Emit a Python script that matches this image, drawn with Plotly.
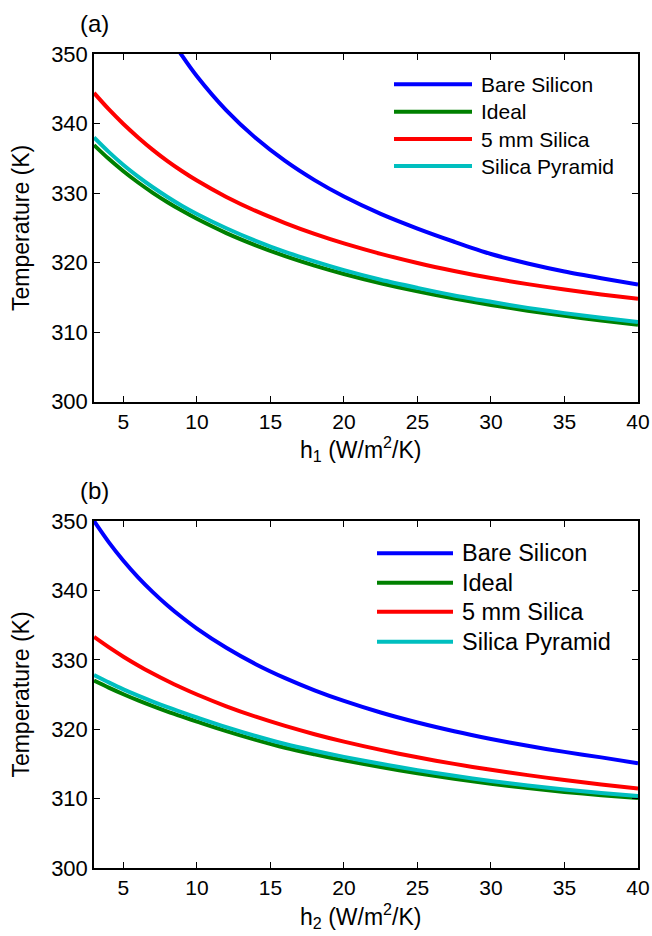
import plotly.graph_objects as go

# Heat transfer coefficient grid (W/m^2/K)
h = [3, 4, 5, 6, 7, 8, 9, 10, 12, 14, 16, 18, 20, 22.5, 25, 27.5, 30, 32.5, 35, 37.5, 40]

# (a) temperature (K) vs h1
a_bare = [None, None, None, None, None, 353.02, 349.72, 346.80, 341.89, 337.91, 334.62, 331.86, 329.50,
          327.01, 324.90, 323.00, 321.24, 319.88, 318.73, 317.76, 316.86]
a_ideal = [336.90, 334.92, 333.14, 331.52, 330.04, 328.69, 327.45, 326.30, 324.25, 322.49, 320.94, 319.58,
           318.37, 317.04, 315.87, 314.83, 313.91, 313.09, 312.34, 311.67, 311.05]
a_silica = [344.40, 342.06, 339.94, 338.01, 336.22, 334.60, 333.14, 331.80, 329.44, 327.43, 325.69, 324.13,
            322.76, 321.26, 319.95, 318.80, 317.78, 316.91, 316.13, 315.43, 314.80]
a_pyramid = [338.00, 335.92, 334.04, 332.37, 330.84, 329.44, 328.15, 327.00, 324.95, 323.14, 321.54, 320.18,
             318.92, 317.54, 316.37, 315.28, 314.36, 313.49, 312.74, 312.07, 311.45]

# (b) temperature (K) vs h2
b_bare = [350.00, 346.96, 344.28, 341.89, 339.76, 337.83, 336.09, 334.50, 331.73, 329.37, 327.36, 325.61,
          324.08, 322.41, 320.97, 319.71, 318.60, 317.61, 316.73, 315.94, 315.10]
b_ideal = [327.00, 325.99, 325.04, 324.15, 323.32, 322.53, 321.80, 321.10, 319.72, 318.46, 317.32, 316.38,
           315.51, 314.54, 313.65, 312.86, 312.13, 311.52, 310.96, 310.49, 310.08]
b_silica = [333.30, 331.82, 330.45, 329.19, 328.03, 326.94, 325.94, 325.00, 323.30, 321.80, 320.47, 319.28,
            318.21, 317.02, 315.95, 315.00, 314.15, 313.38, 312.68, 312.04, 311.45]
b_pyramid = [327.80, 326.74, 325.74, 324.83, 323.98, 323.17, 322.42, 321.70, 320.30, 319.02, 317.86, 316.90,
             316.01, 315.01, 314.10, 313.28, 312.53, 311.89, 311.31, 310.81, 310.38]

names = ["Bare Silicon", "Ideal", "5 mm Silica", "Silica Pyramid"]
colors = ["#0000ff", "#008000", "#ff0000", "#00bfbf"]

x_ticks = [5, 10, 15, 20, 25, 30, 35, 40]
y_ticks = [300, 310, 320, 330, 340, 350]

FONT = "Liberation Sans, Arial, Helvetica, sans-serif"

fig = go.Figure()

panels = [
    ("x", "y", [a_bare, a_ideal, a_silica, a_pyramid]),
    ("x2", "y2", [b_bare, b_ideal, b_silica, b_pyramid]),
]
for xa, ya, series in panels:
    for name, col, ys in zip(names, colors, series):
        fig.add_trace(go.Scatter(
            x=h, y=ys, name=name, mode="lines", xaxis=xa, yaxis=ya, showlegend=False,
            line=dict(color=col, width=4, shape="spline", smoothing=0.8),
            connectgaps=False, cliponaxis=True,
        ))

axis_common = dict(
    showline=True, linecolor="black", linewidth=1.5, mirror="ticks",
    ticks="inside", ticklen=6, tickwidth=1.2, tickcolor="black",
    showgrid=False, zeroline=False,
)
x_tickfont = dict(family=FONT, size=21, color="black")
y_tickfont = dict(family=FONT, size=22, color="black")

# Paper-space layout helpers (plot area spans 54..868 px vertically, 94..638 px horizontally)
TOP, BOT, LEFT, RIGHT = 54, 868, 94, 638


def py(pix):
    return (BOT - pix) / (BOT - TOP)


def px(pix):
    return (pix - LEFT) / (RIGHT - LEFT)


annotations = [
    dict(text="(a)", x=0.0, y=py(23), xref="paper", yref="paper", xanchor="center",
         yanchor="middle", showarrow=False, font=dict(family=FONT, size=24)),
    dict(text="(b)", x=0.0, y=py(490), xref="paper", yref="paper", xanchor="center",
         yanchor="middle", showarrow=False, font=dict(family=FONT, size=24)),
    dict(text="h<sub>1</sub> (W/m<sup>2</sup>/K)", x=0.49, y=py(431), xref="paper", yref="paper",
         xanchor="center", yanchor="top", showarrow=False, font=dict(family=FONT, size=23)),
    dict(text="h<sub>2</sub> (W/m<sup>2</sup>/K)", x=0.49, y=py(898), xref="paper", yref="paper",
         xanchor="center", yanchor="top", showarrow=False, font=dict(family=FONT, size=23)),
]
shapes = []

# Legends: line sample + label per series, one block in each panel
legend_specs = [
    dict(x0=394, x1=472, tx=479, rows=[84.3, 111.7, 139.0, 166.0], size=21),
    dict(x0=377, x1=453, tx=460, rows=[553.3, 582.7, 611.7, 641.7], size=23.5),
]
for spec in legend_specs:
    for name, col, row in zip(names, colors, spec["rows"]):
        shapes.append(dict(type="line", xref="paper", yref="paper",
                           x0=px(spec["x0"]), x1=px(spec["x1"]), y0=py(row), y1=py(row),
                           line=dict(color=col, width=4)))
        annotations.append(dict(text=name, x=px(spec["tx"]), y=py(row), xref="paper", yref="paper",
                                xanchor="left", yanchor="middle", showarrow=False,
                                font=dict(family=FONT, size=spec["size"], color="black")))

fig.update_layout(
    width=652, height=936,
    paper_bgcolor="white", plot_bgcolor="white",
    margin=dict(l=LEFT, r=652 - RIGHT, t=TOP, b=936 - BOT, autoexpand=False),
    font=dict(family=FONT, size=22, color="black"),
    xaxis=dict(domain=[0, 1], range=[3, 40], tickvals=x_ticks, anchor="y",
               tickfont=x_tickfont, **axis_common),
    yaxis=dict(domain=[py(401.7), 1], range=[300, 350], tickvals=y_ticks, anchor="x",
               tickfont=y_tickfont,
               title=dict(text="Temperature (K)", standoff=15, font=dict(family=FONT, size=23)),
               **axis_common),
    xaxis2=dict(domain=[0, 1], range=[3, 40], tickvals=x_ticks, anchor="y2",
                tickfont=x_tickfont, **axis_common),
    yaxis2=dict(domain=[0, py(521)], range=[300, 350], tickvals=y_ticks, anchor="x2",
                tickfont=y_tickfont,
                title=dict(text="Temperature (K)", standoff=15, font=dict(family=FONT, size=23)),
                **axis_common),
    annotations=annotations,
    shapes=shapes,
)

fig.write_html("out.html")
